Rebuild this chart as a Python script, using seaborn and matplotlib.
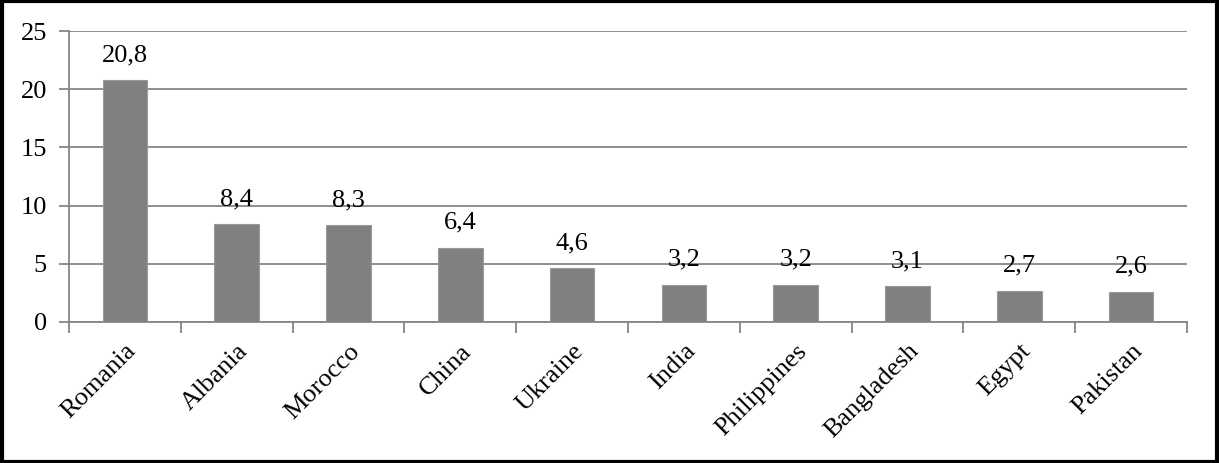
import numpy as np
import pandas as pd
import matplotlib
matplotlib.use("Agg")
import matplotlib.pyplot as plt
from matplotlib.patches import Rectangle
import seaborn as sns

countries = ["Romania", "Albania", "Morocco", "China", "Ukraine", "India",
             "Philippines", "Bangladesh", "Egypt", "Pakistan"]
shares = [20.8, 8.4, 8.3, 6.4, 4.6, 3.2, 3.2, 3.1, 2.7, 2.6]
y_ticks = [0, 5, 10, 15, 20, 25]

sns.set_theme(style="white")
plt.rcParams["font.family"] = ["Liberation Serif", "DejaVu Serif"]
plt.rcParams["text.color"] = "black"
plt.rcParams["xtick.color"] = "black"
plt.rcParams["ytick.color"] = "black"

grey = "#868686"
fs = 19
df = pd.DataFrame({"country": countries, "share": shares})

fig = plt.figure(figsize=(12.19, 4.63), dpi=100)
ax = fig.add_axes([69 / 1219, 1 - 322 / 463, (1187 - 69) / 1219, (322 - 31) / 463])

sns.barplot(data=df, x="country", y="share", color="#808080", saturation=1,
            width=0.4, ax=ax, zorder=3, edgecolor="#9a9a9a", linewidth=0.8)

ax.set_ylim(0, 25)
ax.set_xlim(-0.5, len(countries) - 0.5)
ax.set_yticks(y_ticks)
ax.set_yticklabels([str(t) for t in y_ticks], fontsize=fs)
ax.yaxis.grid(True, color=grey, linewidth=1.3, zorder=0)
ax.set_axisbelow(True)

ax.set_xticks(range(len(countries)))
ax.set_xticklabels(countries, rotation=45, ha="right", rotation_mode="anchor",
                   fontsize=fs)
ax.set_xticks(np.arange(-0.5, len(countries), 1.0), minor=True)
ax.tick_params(axis="x", which="major", length=0, pad=13, labelcolor="black")
ax.tick_params(axis="x", which="minor", length=8, width=1.3, color=grey,
               direction="out", bottom=True)
ax.tick_params(axis="y", length=7, width=1.3, color=grey, direction="out",
               left=True, pad=9, labelcolor="black")
ax.set_xlabel("")
ax.set_ylabel("")

for side in ["top", "right"]:
    ax.spines[side].set_visible(False)
for side in ["left", "bottom"]:
    ax.spines[side].set_color(grey)
    ax.spines[side].set_linewidth(1.3)

for i, v in enumerate(shares):
    ax.annotate(f"{v:.1f}".replace(".", ","), (i, v), xytext=(0, 10),
                textcoords="offset points", ha="center", va="bottom",
                fontsize=fs, color="black")

fig.patches.append(Rectangle((0.0015, 0.003), 0.997, 0.994, transform=fig.transFigure,
                             fill=False, edgecolor="black", linewidth=3))

fig.savefig("out.png", dpi=100, facecolor="white")
